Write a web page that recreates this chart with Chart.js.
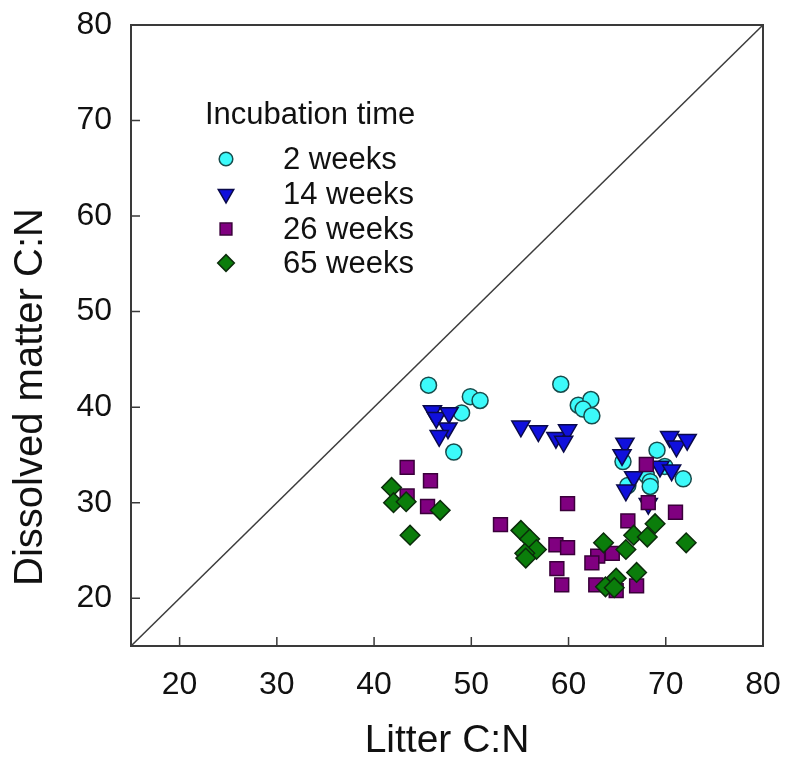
<!DOCTYPE html>
<html><head><meta charset="utf-8">
<script src="https://cdn.jsdelivr.net/npm/chart.js@4/dist/chart.umd.min.js"></script>
<style>html,body{margin:0;padding:0;background:#fff;}#wrap{width:786px;height:765px;position:relative;}</style>
</head><body><div id="wrap"><canvas id="c" width="786" height="765"></canvas></div>
<script>
const FONT = "'Liberation Sans', Arial, Helvetica, sans-serif";
const xTickValues = [20, 30, 40, 50, 60, 70, 80];
const yTickValues = [20, 30, 40, 50, 60, 70, 80];
const xTitle = 'Litter C:N';
const yTitle = 'Dissolved matter C:N';
const legendTitle = 'Incubation time';
const seriesNames = ['2 weeks', '14 weeks', '26 weeks', '65 weeks'];
const oneToOne = [15, 80];

const week2X = [45.6, 49.9, 50.9, 49.0, 48.2, 59.2, 61.0, 62.3, 61.5, 62.4, 69.1, 65.6, 68.0, 68.4, 68.4, 66.1, 71.8, 69.9];
const week2Y = [42.3, 41.1, 40.7, 39.4, 35.3, 42.4, 40.2, 40.8, 39.8, 39.1, 35.5, 34.3, 32.9, 32.2, 31.7, 31.8, 32.5, 33.8];
const week14X = [46.0, 46.4, 47.7, 47.6, 46.7, 55.1, 56.9, 58.7, 59.9, 59.5, 65.8, 65.5, 70.4, 71.1, 72.2, 66.7, 65.9, 69.4, 70.6, 68.2];
const week14Y = [39.6, 38.9, 39.4, 37.8, 37.0, 38.0, 37.5, 36.8, 37.6, 36.4, 36.2, 35.0, 36.9, 35.9, 36.6, 32.7, 31.3, 33.8, 33.4, 29.9];
const week26X = [43.4, 45.8, 43.4, 45.5, 53.0, 59.9, 68.0, 68.2, 71.0, 66.1, 58.7, 59.9, 63.0, 64.5, 62.4, 58.8, 59.3, 62.8, 64.9, 67.0];
const week26Y = [33.7, 32.3, 30.7, 29.6, 27.7, 29.9, 34.0, 30.0, 29.0, 28.1, 25.6, 25.3, 24.4, 24.7, 23.7, 23.1, 21.4, 21.4, 20.8, 21.3];
const week65X = [41.8, 42.0, 43.3, 46.8, 43.7, 55.1, 56.0, 56.7, 55.5, 55.6, 68.9, 66.7, 68.1, 63.6, 65.9, 72.1, 67.0, 64.9, 63.8, 64.7];
const week65Y = [31.6, 30.0, 30.1, 29.2, 26.6, 27.1, 26.2, 25.1, 24.7, 24.2, 27.8, 26.6, 26.4, 25.8, 25.1, 25.8, 22.7, 22.1, 21.2, 21.1];

const pts = (xs, ys) => xs.map((x, i) => ({x: x, y: ys[i]}));

const styles = [
  {pointStyle: 'circle', rotation: 0, radius: 8, bg: '#3cfafa', border: '#174c4c'},
  {pointStyle: 'triangle', rotation: 180, radius: 10.5, bg: '#1010dc', border: '#0a0a4a'},
  {pointStyle: 'rect', rotation: 0, radius: 9.8, bg: '#800080', border: '#3a003a'},
  {pointStyle: 'rectRot', rotation: 0, radius: 9.8, bg: '#0b7d0b', border: '#0b2c0b'}
];
const seriesData = [pts(week2X, week2Y), pts(week14X, week14Y), pts(week26X, week26Y), pts(week65X, week65Y)];

const datasets = seriesData.map((d, i) => ({
  label: seriesNames[i],
  data: d,
  pointStyle: styles[i].pointStyle,
  rotation: styles[i].rotation,
  pointRadius: styles[i].radius,
  pointHoverRadius: styles[i].radius,
  backgroundColor: styles[i].bg,
  borderColor: styles[i].border,
  pointBorderWidth: 1.5,
  order: 4 - i
}));
datasets.push({
  label: '1:1',
  data: [{x: oneToOne[0], y: oneToOne[0]}, {x: oneToOne[1], y: oneToOne[1]}],
  showLine: true,
  pointRadius: 0,
  borderColor: '#3c3c3c',
  borderWidth: 1.5,
  order: 10
});

const framePlugin = {
  id: 'frame',
  afterDraw(chart) {
    const ctx = chart.ctx;
    const a = chart.chartArea;
    const xs = chart.scales.x, ys = chart.scales.y;
    ctx.save();
    ctx.strokeStyle = '#3a3a3a';
    ctx.lineWidth = 2;
    ctx.beginPath();
    ctx.moveTo(a.left, a.top); ctx.lineTo(a.right, a.top); ctx.lineTo(a.right, a.bottom);
    ctx.stroke();
    ctx.lineWidth = 1.5;
    ctx.beginPath();
    xTickValues.forEach(v => {
      if (v >= 80) return;
      const px = xs.getPixelForValue(v);
      ctx.moveTo(px, a.bottom); ctx.lineTo(px, a.bottom - 9);
    });
    yTickValues.forEach(v => {
      if (v >= 80) return;
      const py = ys.getPixelForValue(v);
      ctx.moveTo(a.left, py); ctx.lineTo(a.left + 9, py);
    });
    ctx.stroke();

    // y title
    ctx.fillStyle = '#111';
    ctx.font = '40px ' + FONT;
    ctx.textAlign = 'center';
    ctx.textBaseline = 'middle';
    ctx.translate(31, 397);
    ctx.rotate(-Math.PI / 2);
    ctx.fillText(yTitle, 0, 0);
    ctx.restore();

    // legend
    ctx.save();
    ctx.fillStyle = '#111';
    ctx.font = '31px ' + FONT;
    ctx.textAlign = 'left';
    ctx.textBaseline = 'middle';
    ctx.fillText(legendTitle, 205, 115);
    const rowsY = [159, 194, 229, 263];
    seriesNames.forEach((n, i) => {
      const s = styles[i];
      ctx.fillStyle = s.bg;
      ctx.strokeStyle = s.border;
      ctx.lineWidth = 1.5;
      Chart.helpers.drawPoint(ctx, {pointStyle: s.pointStyle, rotation: s.rotation, radius: s.radius * 0.85, borderWidth: 1.5}, 226, rowsY[i]);
      ctx.fillStyle = '#111';
      ctx.fillText(n, 283, rowsY[i] + 1);
    });
    ctx.restore();
  }
};

new Chart(document.getElementById('c'), {
  type: 'scatter',
  data: {datasets: datasets},
  options: {
    responsive: false,
    animation: false,
    devicePixelRatio: 1,
    layout: {padding: {top: 25, right: 23, left: 0, bottom: 0}},
    plugins: {legend: {display: false}, tooltip: {enabled: false}},
    scales: {
      x: {
        type: 'linear', min: 15, max: 80,
        afterBuildTicks: s => { s.ticks = xTickValues.map(v => ({value: v})); },
        afterFit: s => { s.height = 119; s.paddingLeft = 0; s.paddingRight = 0; },
        grid: {display: false, drawTicks: false, tickLength: 0},
        border: {display: true, color: '#3a3a3a', width: 2},
        ticks: {font: {family: FONT, size: 32}, color: '#111', padding: 20, maxRotation: 0, autoSkip: false},
        title: {display: true, text: xTitle, color: '#111', font: {family: FONT, size: 39}, padding: {top: 0, bottom: 0}}
      },
      y: {
        type: 'linear', min: 15, max: 80,
        afterBuildTicks: s => { s.ticks = yTickValues.map(v => ({value: v})); },
        afterFit: s => { s.width = 131; s.paddingTop = 0; s.paddingBottom = 0; },
        grid: {display: false, drawTicks: false, tickLength: 0},
        border: {display: true, color: '#3a3a3a', width: 2},
        ticks: {font: {family: FONT, size: 32}, color: '#111', padding: 19, autoSkip: false},
        title: {display: false, text: yTitle}
      }
    }
  },
  plugins: [framePlugin]
});
</script>
</body></html>
